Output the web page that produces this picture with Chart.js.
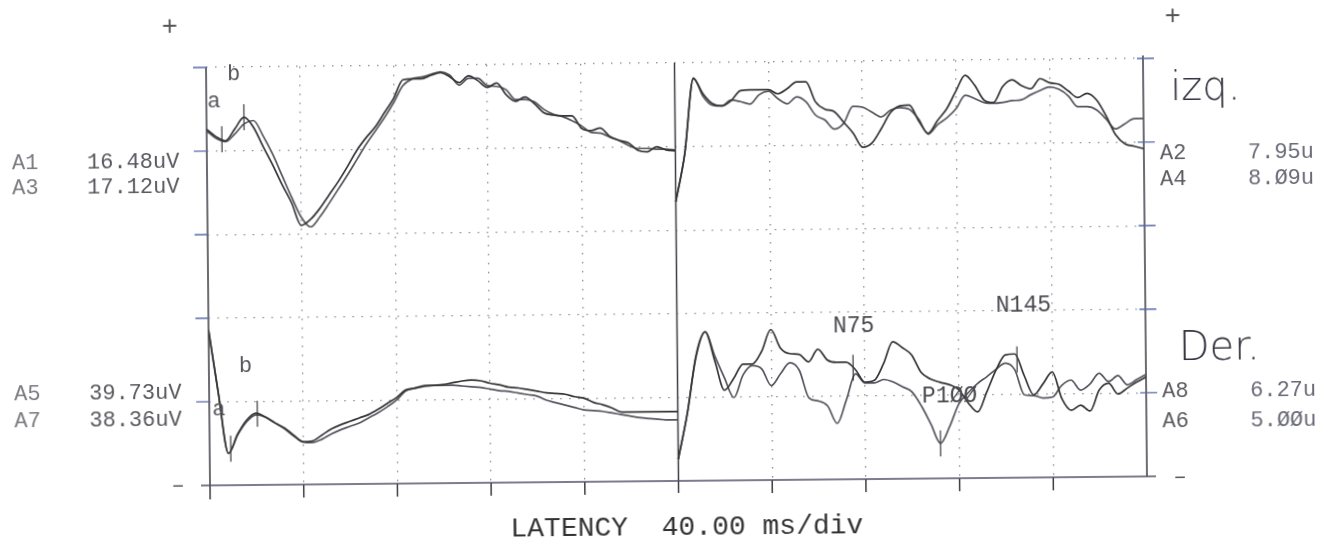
<!DOCTYPE html>
<html>
<head>
<meta charset="utf-8">
<title>Evoked potentials</title>
<script src="https://cdn.jsdelivr.net/npm/chart.js@4.4.1/dist/chart.umd.min.js"></script>
<style>
  html, body { margin:0; padding:0; background:#fff; overflow:hidden; }
  /* the printout was scanned a little crooked */
  #sheet { position:absolute; left:0; top:0; width:1339px; height:546px; transform:rotate(-0.55deg); transform-origin:50% 50%; }
</style>
</head>
<body>
<div id="sheet"><canvas id="ep" width="1339" height="546"></canvas></div>
<script>
// time base of every sweep (ms), 200 ms per panel
const latencyMs = [0,4,8,12,16,20,24,28,32,36,40,44,48,52,56,60,64,68,72,76,80,84,88,92,96,100,
  104,108,112,116,120,124,128,132,136,140,144,148,152,156,160,164,168,172,176,180,184,188,192,196,200];

// amplitudes in grid divisions, relative to each channel baseline
const a1 = [0.26,0.17,0.12,0.26,0.40, 0.28,0.05,-0.17,-0.41,-0.63, -0.90,-0.83,-0.70,-0.54,-0.38,
  -0.20,-0.01,0.14,0.27,0.44, 0.61,0.83,0.84,0.84,0.88, 0.91,0.86,0.79,0.87,0.81, 0.73,0.78,0.64,0.56,0.61,
  0.53,0.42,0.39,0.38,0.38, 0.23,0.20,0.23,0.13,0.08, 0.05,-0.04,-0.06,0.00,-0.04, -0.05];
const a3 = [0.24,0.15,0.11,0.20,0.32, 0.36,0.18,-0.04,-0.30,-0.56, -0.80,-0.92,-0.80,-0.64,-0.47,
  -0.30,-0.12,0.06,0.22,0.38, 0.56,0.76,0.84,0.86,0.89, 0.92,0.88,0.76,0.84,0.84, 0.75,0.74,0.70,0.58,0.58,
  0.55,0.46,0.40,0.37,0.32, 0.26,0.18,0.17,0.12,0.08, 0.02,-0.02,-0.02,-0.03,-0.03, -0.04];
const a5 = [0.86,0.09,-0.62,-0.39,-0.22, -0.14,-0.19,-0.26,-0.32,-0.41, -0.49,-0.48,-0.41,-0.34,-0.29,
  -0.25,-0.21,-0.17,-0.11,-0.04, 0.03,0.12,0.14,0.16,0.17, 0.18,0.20,0.22,0.23,0.22, 0.19,0.17,0.14,0.13,0.11,
  0.09,0.07,0.06,0.05,0.02, 0.00,-0.05,-0.08,-0.12,-0.17, -0.17,-0.17,-0.17,-0.17,-0.17, -0.17];
const a7 = [0.86,0.09,-0.62,-0.40,-0.24, -0.16,-0.19,-0.26,-0.33,-0.42, -0.49,-0.50,-0.46,-0.40,-0.35,
  -0.31,-0.27,-0.21,-0.15,-0.08, 0.00,0.11,0.14,0.17,0.17, 0.17,0.17,0.16,0.15,0.14, 0.12,0.10,0.09,0.07,0.05,
  0.03,-0.02,-0.05,-0.08,-0.11, -0.14,-0.15,-0.16,-0.18,-0.20, -0.22,-0.24,-0.25,-0.26,-0.27, -0.27];
const a2 = [-0.66,-0.09,0.81,0.63,0.51, 0.48,0.54,0.66,0.67,0.67, 0.67,0.62,0.68,0.76,0.76,
  0.52,0.43,0.40,0.27,0.14, -0.03,0.02,0.19,0.38,0.46, 0.47,0.28,0.13,0.28,0.42, 0.63,0.82,0.70,0.52,0.49,
  0.68,0.76,0.69,0.65,0.77, 0.72,0.70,0.62,0.54,0.59, 0.51,0.32,0.09,-0.02,-0.05, -0.08];
const a4 = [-0.66,-0.09,0.82,0.60,0.49, 0.48,0.55,0.53,0.50,0.61, 0.65,0.56,0.50,0.58,0.52,
  0.36,0.30,0.19,0.26,0.46, 0.45,0.39,0.33,0.41,0.44, 0.42,0.30,0.12,0.23,0.31, 0.42,0.58,0.54,0.49,0.48,
  0.49,0.51,0.52,0.58,0.63, 0.67,0.64,0.56,0.43,0.43, 0.39,0.28,0.16,0.22,0.28, 0.28];
const a8 = [-0.74,-0.20,0.50,0.78,0.43, 0.08,0.22,0.39,0.39,0.54, 0.80,0.58,0.51,0.50,0.41,
  0.56,0.43,0.40,0.40,0.31, 0.16,0.18,0.38,0.64,0.57, 0.48,0.27,0.19,0.15,0.12, 0.06,-0.10,-0.21,0.03,0.29,
  0.47,0.48,0.22,-0.01,0.12, 0.26,-0.06,-0.20,-0.14,-0.21, 0.04,0.12,-0.01,0.06,0.13, 0.19];
const a6 = [-0.74,-0.20,0.48,0.78,0.49, 0.23,-0.01,0.26,0.37,0.33, 0.13,0.27,0.40,0.31,-0.02,
  -0.06,-0.12,-0.33,-0.05,0.26, 0.15,0.15,0.19,0.16,0.10, 0.04,-0.13,-0.35,-0.58,-0.38, -0.11,0.02,0.13,0.21,0.30,
  0.37,0.29,-0.01,-0.02,-0.05, -0.04,0.10,0.16,0.04,0.11, 0.24,0.14,0.21,0.10,0.16, 0.22];

const leftNames  = ["A1","A3","A5","A7"];
const leftAmps   = ["16.48uV","17.12uV","39.73uV","38.36uV"];
const rightNames = ["A2","A4","A8","A6"];
const rightAmps  = ["7.95u","8.Ø9u","6.27u","5.ØØu"];

// latency cursors: channel, latency (ms)
const cursorChan = ["A1","A1","A5","A5","A8","A6","A8"];
const cursorMs   = [6.5, 16, 9, 20.5, 75, 112, 145];
const peakNames  = ["N75","P1ØØ","N145"];

// channel -> [values, baseline division, panel offset ms]
const channels = {
  A1:[a1,4,0], A3:[a3,4,0], A5:[a5,1,0], A7:[a7,1,0],
  A2:[a2,4,200], A4:[a4,4,200], A8:[a8,1,200], A6:[a6,1,200]
};
const traceColor = { A1:"#353535", A3:"#56565f", A5:"#353535", A7:"#56565f",
                     A2:"#353535", A4:"#56565f", A8:"#353535", A6:"#56565f" };

function valueAt(arr, t) {
  for (let i=1;i<latencyMs.length;i++) {
    if (t <= latencyMs[i]) {
      const f=(t-latencyMs[i-1])/(latencyMs[i]-latencyMs[i-1]);
      return arr[i-1]+(arr[i]-arr[i-1])*f;
    }
  }
  return arr[arr.length-1];
}

const plotFont = '"Liberation Mono", "DejaVu Sans Mono", monospace';

const scopeFrame = {
  id:"scopeFrame",
  beforeDatasetsDraw(chart) {
    const {ctx, scales:{x,y}} = chart;
    const x0=x.getPixelForValue(0), xm=x.getPixelForValue(200), x1=x.getPixelForValue(400);
    const yTop=y.getPixelForValue(5), yB=y.getPixelForValue(0);
    ctx.save();
    ctx.strokeStyle="#3c3c44"; ctx.lineWidth=1.5;
    ctx.beginPath();
    ctx.moveTo(x0,yTop); ctx.lineTo(x0,yB+14);
    ctx.moveTo(xm,yTop); ctx.lineTo(xm,yB+12);
    ctx.moveTo(x1,yTop-3); ctx.lineTo(x1,yB);
    x.ticks.forEach(tk=>{
      if (tk.value>0 && tk.value<400 && tk.value!==200) {
        const px=x.getPixelForValue(tk.value);
        ctx.moveTo(px,yB); ctx.lineTo(px,yB+13);
      }
    });
    ctx.stroke();
    ctx.strokeStyle="#55506a"; ctx.lineWidth=1.6;
    ctx.beginPath(); ctx.moveTo(x0-9,yB); ctx.lineTo(x1+9,yB); ctx.stroke();
    ctx.strokeStyle="#5a6aa8"; ctx.lineWidth=1.4;
    ctx.beginPath();
    y.ticks.forEach(tk=>{
      if (tk.value>0) {
        const py=y.getPixelForValue(tk.value);
        ctx.moveTo(x0-13,py); ctx.lineTo(x0+1,py);
        ctx.moveTo(x1-6,py); ctx.lineTo(x1+11,py);
      }
    });
    ctx.stroke();
    ctx.restore();
  },
  afterDatasetsDraw(chart) {
    const {ctx, scales:{x,y}} = chart;
    ctx.save();
    // latency cursors
    ctx.strokeStyle="#3a3a3a"; ctx.lineWidth=1.2;
    const cursorPix = cursorChan.map((ch,i)=>{
      const [vals,base,off]=channels[ch];
      const px=x.getPixelForValue(cursorMs[i]+off), py=y.getPixelForValue(valueAt(vals,cursorMs[i])+base);
      ctx.beginPath(); ctx.moveTo(px,py-13); ctx.lineTo(px,py+13); ctx.stroke();
      return [px,py];
    });

    ctx.textBaseline="alphabetic";
    // channel labels
    const py4=y.getPixelForValue(4), py1=y.getPixelForValue(1);
    const leftBase=[py4+16, py4+41, py1-3, py1+24];
    const rightBase=[py4+17, py4+43, py1+5, py1+35];
    ctx.font="22px "+plotFont;
    leftNames.forEach((n,i)=>{
      ctx.fillStyle="#7a7a80"; ctx.textAlign="left"; ctx.fillText(n,13,leftBase[i]);
      ctx.fillStyle="#58585e"; ctx.fillText(leftAmps[i],88,leftBase[i]);
    });
    rightNames.forEach((n,i)=>{
      ctx.fillStyle="#5a5a60"; ctx.fillText(n,1161,rightBase[i]);
      ctx.fillStyle="#6a6a78"; ctx.fillText(rightAmps[i],1249,rightBase[i]);
    });

    // a / b cursor tags
    const x0=x.getPixelForValue(0);
    ctx.fillStyle="#55555c"; ctx.font="22px "+plotFont;
    ctx.fillText("a",x0+1,103); ctx.fillText("b",x0+21,76);
    ctx.fillText("a",x0+3,411); ctx.fillText("b",x0+30,368);

    // peak names
    ctx.fillStyle="#4a4a50"; ctx.font="23px "+plotFont;
    ctx.textAlign="center"; ctx.fillText(peakNames[0],cursorPix[4][0]+1,334);
    ctx.textAlign="left";   ctx.fillText(peakNames[1],cursorPix[5][0]-18,405);
    ctx.textAlign="center"; ctx.fillText(peakNames[2],cursorPix[6][0]+7,315);

    // polarity marks
    ctx.fillStyle="#555"; ctx.font="27px "+plotFont; ctx.textAlign="center";
    ctx.fillText("+",172,30); ctx.fillText("+",1175,29);
    ctx.font="22px "+plotFont;
    ctx.fillText("–",176,487); ctx.fillText("–",1178,488);

    // handwritten side notes
    ctx.fillStyle="#34343f"; ctx.textAlign="left";
    ctx.font='200 40px "DejaVu Sans"';
    ctx.fillText("izq.",1172,105);
    ctx.fillText("Der.",1178,365);

    // time base
    ctx.fillStyle="#333"; ctx.font="28px "+plotFont; ctx.textAlign="left";
    ctx.fillText("LATENCY  40.00 ms/div",508,535);
    ctx.restore();
  }
};

const datasets = Object.keys(channels).map(ch=>{
  const [vals,base,off]=channels[ch];
  return {
    label: ch,
    data: latencyMs.map((t,i)=>({x:t+off, y:vals[i]+base})),
    borderColor: traceColor[ch],
    borderWidth: 1.7,
    pointRadius: 0,
    tension: 0.3,
    cubicInterpolationMode: "monotone",
    fill: false
  };
});

const gridDot = (v)=> (v===0 || v===200 || v===400) ? "rgba(0,0,0,0)" : "#8a8a8a";

new Chart(document.getElementById("ep"), {
  type: "line",
  data: { datasets },
  options: {
    responsive: false,
    animation: false,
    devicePixelRatio: 1,
    layout: { padding: { left:208, right:194, top:63, bottom:65 } },
    plugins: { legend:{display:false}, tooltip:{enabled:false} },
    scales: {
      x: { type:"linear", min:0, max:400,
           ticks:{ display:false, stepSize:40 },
           grid:{ drawTicks:false, lineWidth:1.3, color:(c)=>gridDot(c.tick.value) },
           border:{ display:false, dash:[1.5,7.5] },
           afterFit:(s)=>{ s.height=0; } },
      y: { type:"linear", min:0, max:5,
           ticks:{ display:false, stepSize:1 },
           grid:{ drawTicks:false, lineWidth:1.3, color:(c)=>gridDot(c.tick.value) },
           border:{ display:false, dash:[1.5,7.5] },
           afterFit:(s)=>{ s.width=0; } }
    }
  },
  plugins: [scopeFrame]
});
</script>
</body>
</html>
